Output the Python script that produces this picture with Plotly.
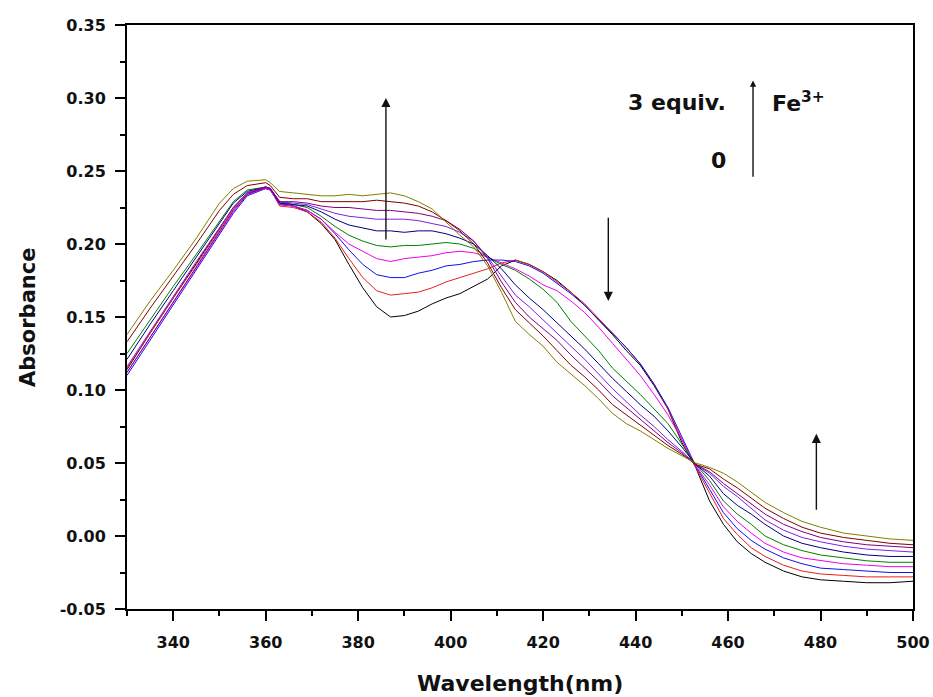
import plotly.graph_objects as go

wavelength = [330,335,340,345,350,353,356,360,361,363,366,369,372,375,378,381,384,387,390,
              393,396,399,402,405,408,411,414,417,420,423,426,429,432,435,438,441,444,447,450,
              453,456,459,462,465,468,472,476,480,485,490,495,500]

abs_0eq = [0.114,0.139,0.163,0.187,0.211,0.225,0.235,0.238,0.237,
           0.227,0.226,0.222,0.214,0.203,0.186,0.170,0.157,0.150,0.151,
           0.154,0.159,0.163,0.166,0.171,0.176,0.185,0.189,0.186,0.181,
           0.175,0.167,0.158,0.148,0.138,0.127,0.117,0.103,0.087,0.064,
           0.047,
           0.024,0.008,-0.004,-0.012,-0.018,-0.024,-0.028,-0.030,-0.031,-0.032,-0.032,-0.031]
abs_red = [0.115,0.139,0.163,0.186,0.210,0.224,0.235,0.239,0.238,
           0.226,0.225,0.222,0.215,0.204,0.190,0.177,0.168,0.165,0.166,
           0.167,0.170,0.174,0.177,0.180,0.183,0.187,0.189,0.186,0.181,
           0.174,0.167,0.159,0.149,0.139,0.129,0.118,0.104,0.087,0.066,
           0.047,
           0.029,0.012,0.001,-0.008,-0.014,-0.020,-0.024,-0.026,-0.027,-0.028,-0.028,-0.028]
abs_blue = [0.110,0.134,0.158,0.182,0.206,0.221,0.233,0.238,0.237,
            0.228,0.226,0.223,0.217,0.207,0.196,0.186,0.179,0.177,0.177,
            0.180,0.182,0.185,0.186,0.188,0.189,0.189,0.188,0.185,0.180,
            0.173,0.166,0.158,0.148,0.139,0.129,0.118,0.104,0.088,0.068,
            0.048,
            0.032,0.016,0.005,-0.003,-0.009,-0.015,-0.019,-0.022,-0.023,-0.024,-0.025,-0.025]
abs_magenta = [0.112,0.136,0.160,0.184,0.208,0.222,0.234,0.238,0.237,
               0.227,0.226,0.223,0.217,0.208,0.200,0.195,0.190,0.188,0.190,
               0.191,0.192,0.194,0.195,0.194,0.191,0.187,0.183,0.178,0.172,
               0.168,0.161,0.153,0.143,0.132,0.121,0.110,0.097,0.083,0.066,
               0.048,
               0.035,0.020,0.010,0.002,-0.005,-0.011,-0.015,-0.017,-0.019,-0.020,-0.021,-0.021]
abs_green = [0.125,0.148,0.171,0.193,0.216,0.229,0.237,0.239,0.238,
             0.229,0.227,0.225,0.219,0.212,0.206,0.202,0.199,0.198,0.199,
             0.199,0.200,0.201,0.200,0.197,0.191,0.186,0.182,0.176,0.169,
             0.160,0.147,0.137,0.127,0.115,0.106,0.097,0.087,0.077,0.063,
             0.049,
             0.038,0.024,0.015,0.008,0.000,-0.006,-0.010,-0.013,-0.015,-0.017,-0.018,-0.018]
abs_navy = [0.121,0.145,0.168,0.191,0.214,0.228,0.236,0.239,0.238,
            0.228,0.227,0.226,0.222,0.217,0.213,0.211,0.209,0.209,0.208,
            0.209,0.209,0.207,0.204,0.200,0.192,0.183,0.172,0.163,0.155,
            0.146,0.137,0.128,0.118,0.108,0.099,0.090,0.082,0.072,0.061,
            0.049,
            0.041,0.029,0.021,0.015,0.008,0.000,-0.005,-0.008,-0.011,-0.013,-0.014,-0.014]
abs_violet = [0.116,0.140,0.164,0.188,0.211,0.225,0.235,0.239,0.238,
              0.229,0.228,0.227,0.224,0.221,0.219,0.218,0.217,0.217,0.217,
              0.216,0.214,0.212,0.208,0.202,0.191,0.178,0.165,0.157,0.148,
              0.139,0.130,0.121,0.111,0.101,0.092,0.083,0.075,0.066,0.058,
              0.049,
              0.043,0.034,0.027,0.019,0.011,0.004,-0.001,-0.004,-0.007,-0.009,-0.010,-0.011]
abs_purple = [0.112,0.136,0.160,0.184,0.208,0.223,0.234,0.239,0.238,
              0.229,0.229,0.228,0.226,0.225,0.225,0.224,0.223,0.223,0.222,
              0.221,0.219,0.216,0.210,0.202,0.190,0.174,0.160,0.150,0.142,
              0.134,0.124,0.115,0.106,0.096,0.088,0.080,0.072,0.064,0.057,
              0.049,
              0.044,0.036,0.029,0.022,0.015,0.008,0.003,-0.001,-0.004,-0.006,-0.007,-0.008]
abs_wine = [0.133,0.156,0.178,0.200,0.223,0.234,0.240,0.242,0.240,
            0.232,0.231,0.231,0.229,0.229,0.229,0.229,0.230,0.229,0.228,
            0.226,0.222,0.216,0.209,0.200,0.187,0.170,0.155,0.146,0.137,
            0.127,0.117,0.109,0.100,0.090,0.083,0.076,0.069,0.062,0.056,
            0.049,
            0.046,0.039,0.033,0.026,0.019,0.012,0.006,0.002,-0.001,-0.003,-0.005,-0.006]
abs_3eq = [0.138,0.161,0.182,0.204,0.228,0.238,0.243,0.244,0.242,
           0.236,0.235,0.234,0.233,0.233,0.234,0.233,0.234,0.235,0.233,
           0.229,0.224,0.215,0.206,0.198,0.185,0.167,0.147,0.138,0.130,
           0.119,0.111,0.103,0.094,0.084,0.077,0.072,0.066,0.060,0.055,
           0.050,
           0.047,0.043,0.037,0.030,0.023,0.016,0.010,0.006,0.002,0.000,-0.002,-0.003]

series = [abs_0eq, abs_red, abs_blue, abs_magenta, abs_green,
          abs_navy, abs_violet, abs_purple, abs_wine, abs_3eq]
colors = ["#000000", "#E8201C", "#1010F0", "#F000F0", "#008000",
          "#000080", "#8020E0", "#800080", "#800000", "#808000"]

x_ticks = [340, 360, 380, 400, 420, 440, 460, 480, 500]
y_ticks = [-0.05, 0.00, 0.05, 0.10, 0.15, 0.20, 0.25, 0.30, 0.35]

fig = go.Figure()
for ys, c in zip(series, colors):
    fig.add_trace(go.Scatter(x=wavelength, y=ys, mode="lines",
                             line=dict(color=c, width=1), showlegend=False,
                             hoverinfo="skip"))

tickfont = dict(family="DejaVu Sans", size=16, color="#111", weight="bold")
fig.update_xaxes(range=[330, 500], tickvals=x_ticks, ticktext=[str(v) for v in x_ticks],
                 ticks="outside", ticklen=10, tickwidth=2, tickcolor="#000",
                 minor=dict(ticks="outside", ticklen=5, tickwidth=1.5, tickcolor="#000",
                            dtick=10, tick0=330),
                 showline=True, linewidth=2, linecolor="#000", mirror=True,
                 showgrid=False, zeroline=False, tickfont=tickfont, ticklabelstandoff=8,
                 automargin=False, ticklabeloverflow="allow")
fig.update_yaxes(range=[-0.05, 0.35], tickvals=y_ticks, ticktext=[f"{v:.2f}" for v in y_ticks],
                 ticks="outside", ticklen=10, tickwidth=2, tickcolor="#000",
                 minor=dict(ticks="outside", ticklen=5, tickwidth=1.5, tickcolor="#000",
                            dtick=0.025, tick0=-0.05),
                 showline=True, linewidth=2, linecolor="#000", mirror=True,
                 showgrid=False, zeroline=False, tickfont=tickfont, ticklabelstandoff=6,
                 automargin=False, ticklabeloverflow="allow")

arrow_style = dict(showarrow=True, xref="x", yref="y", axref="x", ayref="y",
                   arrowhead=2, arrowsize=1.3, arrowwidth=1.4, arrowcolor="#111", text="")
fig.add_annotation(x=386.0, y=0.300, ax=386.0, ay=0.202, **arrow_style)
fig.add_annotation(x=434.1, y=0.161, ax=434.1, ay=0.219, **arrow_style)
fig.add_annotation(x=479.1, y=0.070, ax=479.1, ay=0.017, **arrow_style)
fig.add_annotation(x=465.4, y=0.312, ax=465.4, ay=0.245,
                   **{**arrow_style, "arrowsize": 0.9})

lab_font = dict(family="DejaVu Sans", size=22, color="#111", weight="bold")
fig.add_annotation(x=460.0, y=0.297, xref="x", yref="y", text="3 equiv.",
                   showarrow=False, xanchor="right", yanchor="middle", font=lab_font)
fig.add_annotation(x=460.0, y=0.257, xref="x", yref="y", text="0",
                   showarrow=False, xanchor="right", yanchor="middle", font=lab_font)
fig.add_annotation(x=469.0, y=0.297, xref="x", yref="y", text="Fe<sup>3+</sup>",
                   showarrow=False, xanchor="left", yanchor="middle", font=lab_font)

fig.add_annotation(x=0.5, y=-0.127, xref="paper", yref="paper", text="Wavelength(nm)",
                   showarrow=False, xanchor="center", yanchor="middle",
                   font=dict(family="DejaVu Sans", size=22, color="#111", weight="bold"))
fig.add_annotation(x=-0.126, y=0.5, xref="paper", yref="paper", text="Absorbance",
                   showarrow=False, xanchor="center", yanchor="middle", textangle=-90,
                   font=dict(family="DejaVu Sans", size=21, color="#111", weight="bold"))

fig.update_layout(width=933, height=697, margin=dict(l=127, r=20, t=25, b=88),
                  plot_bgcolor="white", paper_bgcolor="white")

# remove the default 8 px page margin so the figure fills the window exactly
fig.write_html("out.html", config={"displayModeBar": False},
               post_script="document.body.style.margin='0px';document.body.style.overflow='hidden';")
